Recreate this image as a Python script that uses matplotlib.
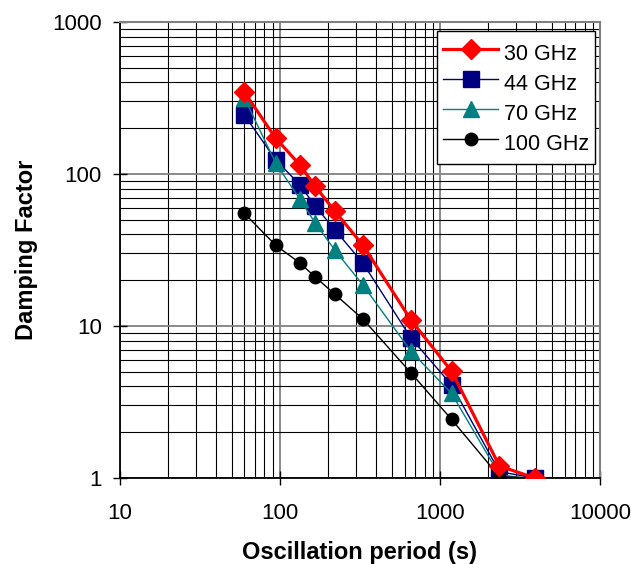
import matplotlib.pyplot as plt
from matplotlib.ticker import LogLocator, NullFormatter, FixedLocator

plt.rcParams['font.family'] = ['Liberation Sans', 'DejaVu Sans']

# oscillation period (s)
period = [60, 94, 133, 166, 220, 330, 660, 1180, 2350, 3900]

# damping factor per band
d30 = [345, 172, 115, 83, 57, 34, 10.9, 5.05, 1.2, 1.0]
d44 = [244, 124, 85, 61.5, 43, 25.9, 8.3, 4.1, 1.1, 1.0]
d70 = [316, 118, 68.5, 47.6, 31.6, 18.6, 6.8, 3.6, 1.05, 0.98]
d100 = [55, 34, 26, 21, 16.2, 11.1, 4.9, 2.43, 1.02, 1.0]

fig = plt.figure(figsize=(6.31, 5.64), dpi=100)
ax = fig.add_axes([0.190, 0.1525, 0.761, 0.8085])

ax.plot(period, d30, color='#ff0000', lw=2.3, marker='D', ms=10,
        label='30 GHz', zorder=5)
ax.plot(period, d44, color='#000080', lw=1, marker='s', ms=11,
        label='44 GHz', zorder=4)
ax.plot(period, d70, color='#008080', lw=1, marker='^', ms=11,
        label='70 GHz', zorder=4)
ax.plot(period, d100, color='black', lw=1, marker='o', ms=9,
        label='100 GHz', zorder=4)

ax.set_xscale('log')
ax.set_yscale('log')
ax.set_xlim(10, 10000)
ax.set_ylim(1, 1000)

ax.xaxis.set_major_locator(FixedLocator([10, 100, 1000, 10000]))
ax.yaxis.set_major_locator(FixedLocator([1, 10, 100, 1000]))
ax.set_xticklabels(['10', '100', '1000', '10000'])
ax.set_yticklabels(['1', '10', '100', '1000'])
ax.xaxis.set_minor_locator(LogLocator(base=10, subs=range(2, 10)))
ax.yaxis.set_minor_locator(LogLocator(base=10, subs=range(2, 10)))
ax.xaxis.set_minor_formatter(NullFormatter())
ax.yaxis.set_minor_formatter(NullFormatter())

ax.grid(which='major', color='#808080', lw=1.3)
ax.grid(which='minor', color='black', lw=0.8)
ax.set_axisbelow(True)

ax.tick_params(which='major', direction='inout', length=10, width=1,
               labelsize=16)
ax.tick_params(axis='x', which='major', pad=13)
ax.tick_params(axis='y', which='major', pad=8)
ax.tick_params(which='minor', length=0)
for s in ['top', 'right']:
    ax.spines[s].set_color('#808080')
    ax.spines[s].set_linewidth(1.5)
for s in ['left', 'bottom']:
    ax.spines[s].set_color('black')
    ax.spines[s].set_linewidth(1.3)

ax.set_xlabel('Oscillation period (s)', fontsize=17, fontweight='bold',
              labelpad=12)
ax.set_ylabel('Damping Factor', fontsize=17, fontweight='bold', labelpad=10)

leg = ax.legend(loc='upper right', fontsize=15.5, fancybox=False,
                framealpha=1, edgecolor='black', borderpad=0.3,
                handlelength=2.55, handleheight=1.77, handletextpad=0.25,
                labelspacing=0.0,
                bbox_to_anchor=(0.990, 0.980), borderaxespad=0)
leg.get_frame().set_linewidth(1)

fig.savefig('out.png', dpi=100)
